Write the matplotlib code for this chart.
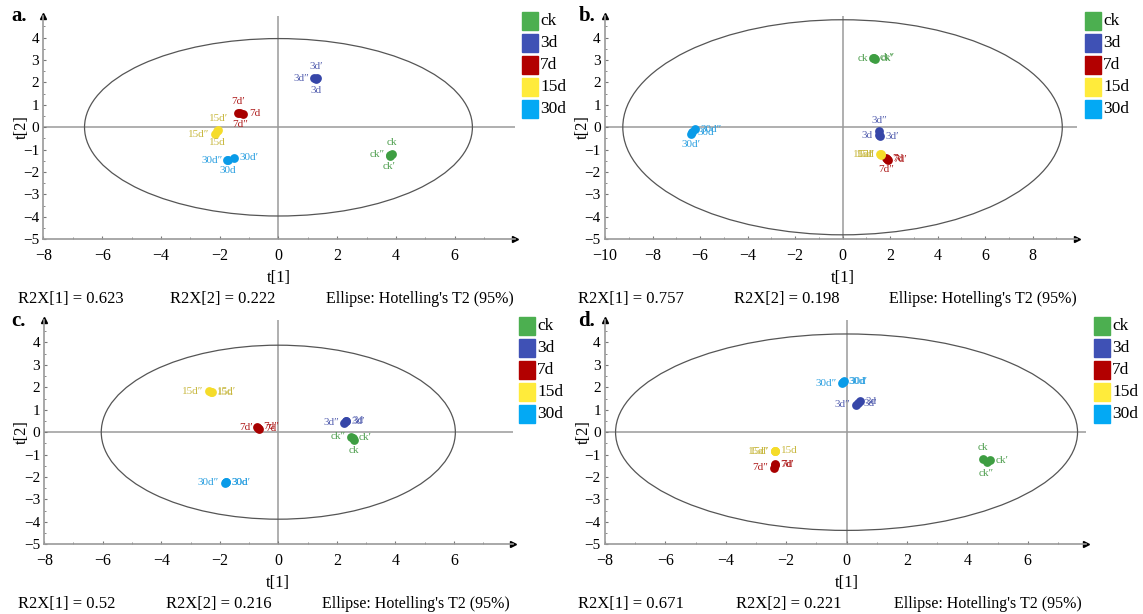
import matplotlib
matplotlib.use("Agg")
import matplotlib.pyplot as plt
from matplotlib.patches import Ellipse, Rectangle
from matplotlib.ticker import MultipleLocator

plt.rcParams["font.family"] = ["Liberation Serif", "DejaVu Serif"]

W, H = 1143, 614

groups = ["ck", "3d", "7d", "15d", "30d"]
legend_colors = ["#4CAF50", "#3F51B5", "#B20000", "#FFEB3B", "#03A9F4"]
point_colors = ["#3E9E42", "#3646A8", "#A80000", "#F5DC2A", "#0A9BE8"]
label_colors = ["#4E9E4E", "#5560B0", "#B02020", "#C8B840", "#2A9FE0"]
suffixes = ["", "\u2032", "\u2033"]

panels = ["a", "b", "c", "d"]
r2x1 = ["0.623", "0.757", "0.52", "0.671"]
r2x2 = ["0.222", "0.198", "0.216", "0.221"]
ellipse_a = [6.6, 9.25, 6.05, 7.65]
ellipse_b = [3.96, 4.8, 3.88, 4.38]
xlims = [(-8, 8.05), (-10, 9.87), (-8, 8.01), (-8, 7.93)]
xticks = [range(-8, 7, 2), range(-10, 9, 2), range(-8, 7, 2), range(-8, 7, 2)]
yticks = range(-5, 5)

# score values t[1], t[2] for each sample: name, name', name''
a_t1 = {"ck": [3.86, 3.78, 3.80], "3d": [1.27, 1.30, 1.22], "7d": [-1.19, -1.37, -1.30],
        "15d": [-2.08, -2.05, -2.15], "30d": [-1.74, -1.52, -1.72]}
a_t2 = {"ck": [-1.18, -1.27, -1.22], "3d": [2.16, 2.22, 2.19], "7d": [0.60, 0.65, 0.62],
        "15d": [-0.18, -0.12, -0.30], "30d": [-1.45, -1.36, -1.47]}
b_t1 = {"ck": [1.30, 1.36, 1.33], "3d": [1.52, 1.57, 1.55], "7d": [1.86, 1.90, 1.82],
        "15d": [1.60, 1.62, 1.58], "30d": [-6.33, -6.36, -6.20]}
b_t2 = {"ck": [3.08, 3.05, 3.10], "3d": [-0.35, -0.40, -0.18], "7d": [-1.40, -1.45, -1.37],
        "15d": [-1.20, -1.22, -1.21], "30d": [-0.22, -0.28, -0.08]}
c_t1 = {"ck": [2.58, 2.55, 2.50], "3d": [2.33, 2.30, 2.26], "7d": [-0.65, -0.68, -0.72],
        "15d": [-2.27, -2.30, -2.37], "30d": [-1.78, -1.80, -1.83]}
c_t2 = {"ck": [-0.33, -0.25, -0.20], "3d": [0.52, 0.49, 0.43], "7d": [0.16, 0.20, 0.24],
        "15d": [1.78, 1.80, 1.83], "30d": [-2.23, -2.24, -2.25]}
d_t1 = {"ck": [4.52, 4.76, 4.64], "3d": [0.44, 0.38, 0.32], "7d": [-2.36, -2.38, -2.41],
        "15d": [-2.36, -2.38, -2.37], "30d": [-0.10, -0.12, -0.15]}
d_t2 = {"ck": [-1.19, -1.25, -1.33], "3d": [1.37, 1.30, 1.22], "7d": [-1.42, -1.46, -1.58],
        "15d": [-0.82, -0.86, -0.84], "30d": [2.27, 2.24, 2.19]}
scores = [(a_t1, a_t2), (b_t1, b_t2), (c_t1, c_t2), (d_t1, d_t2)]

# where each sample label sits: t=top, b=bottom, l=left, r=right
label_sides = [
    {"ck": "tbl", "3d": "btl", "7d": "rtb", "15d": "btl", "30d": "brl"},
    {"ck": "lrr", "3d": "lrt", "7d": "rrb", "15d": "lll", "30d": "rbr"},
    {"ck": "brl", "3d": "rrl", "7d": "rlr", "15d": "rrl", "30d": "rrl"},
    {"ck": "trb", "3d": "rrl", "7d": "rrl", "15d": "rll", "30d": "rrl"},
]
side_offsets = {"t": ((0, 8), "center"), "b": ((0, -8), "center"),
                "l": ((-4, 0), "right"), "r": ((4, 0), "left")}

# layout in pixels: left, right, top, bottom of each plot area
boxes = [(43.4, 515, 15.5, 239.3), (605, 1077, 15.5, 239.3),
         (44.2, 512.7, 320.3, 544.3), (605, 1086, 320.3, 544.3)]
legend_x = [522, 1085, 519, 1094]
letter_x = [11, 579, 11, 578]
ylabel_x = [22, 583, 22, 584]
stat_x = [(18, 170, 326), (578, 734, 889), (18, 166, 322), (578, 736, 894)]

fig = plt.figure(figsize=(W / 100, H / 100), dpi=100)
axis_grey = "#9a9a9a"

for p in range(4):
    l, r, t, b = boxes[p]
    ax = fig.add_axes([l / W, 1 - b / H, (r - l) / W, (b - t) / H])
    ax.set_xlim(*xlims[p])
    ax.set_ylim(-5, 4.99)
    for s in ["top", "right"]:
        ax.spines[s].set_visible(False)
    for s in ["left", "bottom"]:
        ax.spines[s].set_color(axis_grey)
        ax.spines[s].set_linewidth(1.2)
    ax.set_xticks(list(xticks[p]))
    ax.set_yticks(list(yticks))
    ax.xaxis.set_minor_locator(MultipleLocator(1))
    ax.yaxis.set_minor_locator(MultipleLocator(0.5))
    ax.tick_params(which="both", direction="in", color="#777777")
    ax.tick_params(which="major", length=2.5)
    ax.tick_params(which="minor", length=1.5)
    ax.tick_params(axis="x", labelsize=11.5, pad=6)
    ax.tick_params(axis="y", labelsize=11, pad=3)
    ax.axhline(0, color=axis_grey, lw=1.1, zorder=1)
    ax.axvline(0, color=axis_grey, lw=1.1, zorder=1)
    ax.plot(0, 1, marker="^", color="k", ms=4, transform=ax.transAxes, clip_on=False)
    ax.plot(1, 0, marker=">", color="k", ms=4, transform=ax.transAxes, clip_on=False)

    ax.add_patch(Ellipse((0, 0), 2 * ellipse_a[p], 2 * ellipse_b[p], fill=False,
                         edgecolor="#555555", lw=0.9, zorder=2))

    t1, t2 = scores[p]
    for g, name in enumerate(groups):
        ax.scatter(t1[name], t2[name], s=40, color=point_colors[g], zorder=4, linewidths=0)
        for i in range(3):
            (dx, dy), ha = side_offsets[label_sides[p][name][i]]
            ax.annotate(name + suffixes[i], (t1[name][i], t2[name][i]), xytext=(dx, dy),
                        textcoords="offset points", ha=ha, va="center", fontsize=8,
                        color=label_colors[g], zorder=5)

    ax.text(0, -(278 - 239.3) / (b - t), "t[1]", transform=ax.get_xaxis_transform(),
            ha="center", va="center", fontsize=12)
    ax.text((ylabel_x[p] - l) / (r - l), 0, "t[2]", transform=ax.get_yaxis_transform(),
            ha="center", va="center", rotation=90, fontsize=12)

    row_top = 0 if p < 2 else 305
    fig.text(letter_x[p] / W, 1 - (row_top + 21) / H, panels[p] + ".", fontsize=15,
             fontweight="bold", va="baseline")

    sx = stat_x[p]
    sy = 1 - (row_top + 299) / H
    fig.text(sx[0] / W, sy, "R2X[1] = " + r2x1[p], fontsize=12, va="center")
    fig.text(sx[1] / W, sy, "R2X[2] = " + r2x2[p], fontsize=12, va="center")
    fig.text(sx[2] / W, sy, "Ellipse: Hotelling's T2 (95%)", fontsize=11.5, va="center")

    for g, name in enumerate(groups):
        top = row_top + 12 + 22 * g
        fig.patches.append(Rectangle((legend_x[p] / W, 1 - (top + 18) / H), 16 / W, 18 / H,
                                     color=legend_colors[g], transform=fig.transFigure))
        fig.text((legend_x[p] + 18) / W, 1 - (top + 9) / H, name, fontsize=12.5, va="center")

fig.savefig("out.png", dpi=100)
